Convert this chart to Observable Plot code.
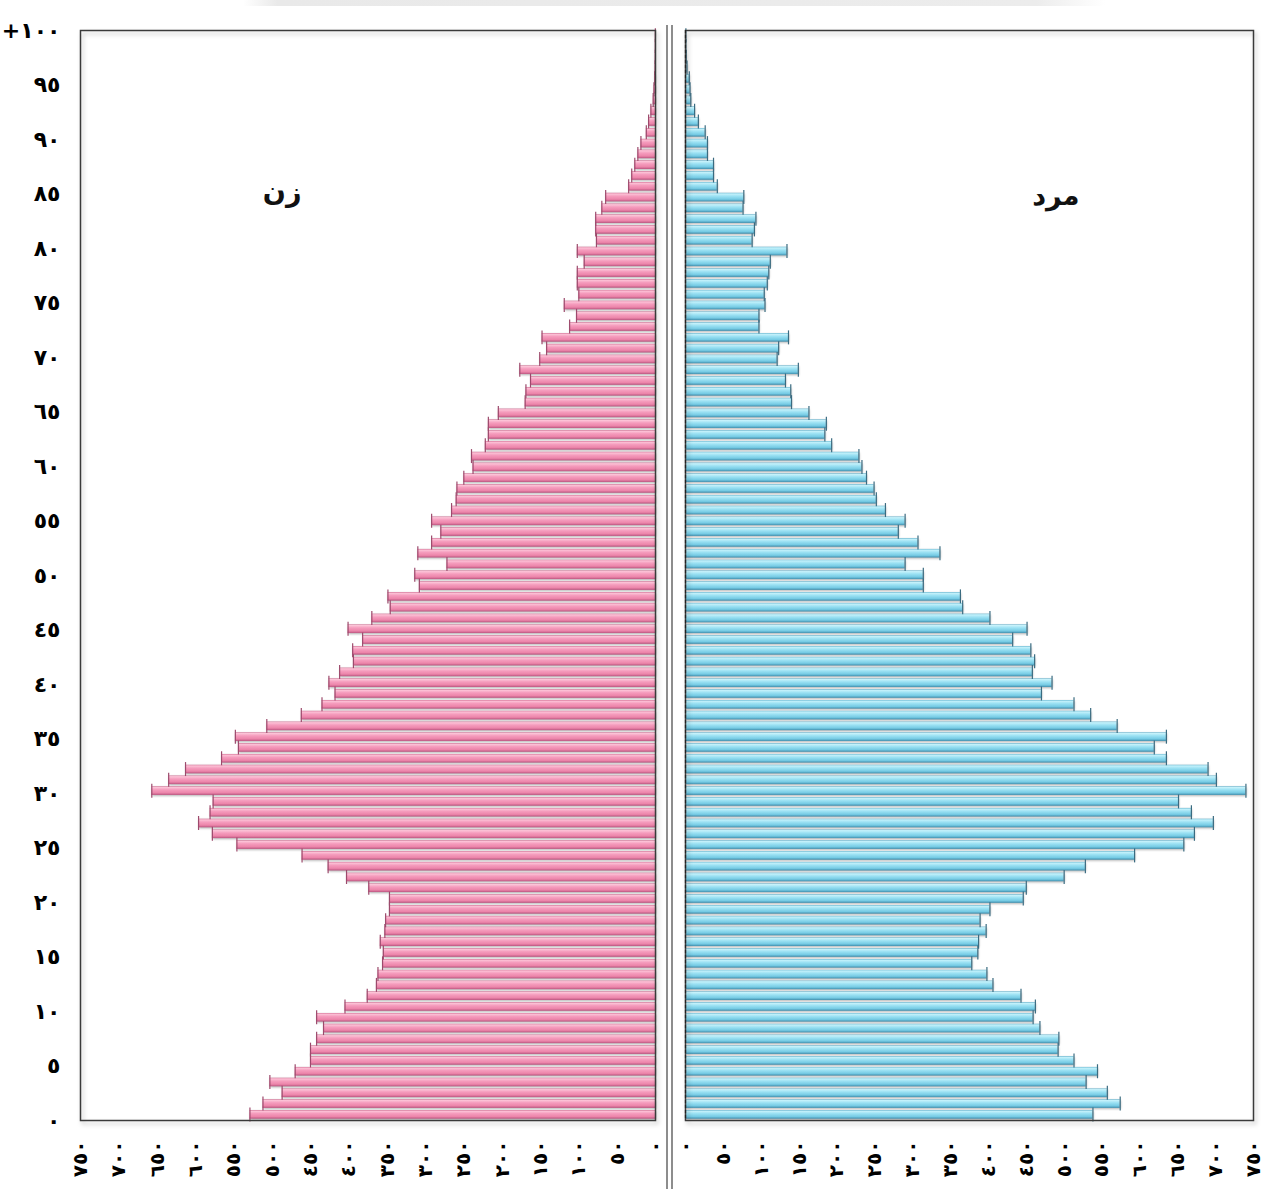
<!DOCTYPE html>
<html><head><meta charset="utf-8">
<script src="https://cdn.jsdelivr.net/npm/d3@7"></script>
<script src="https://cdn.jsdelivr.net/npm/@observablehq/plot@0.6"></script>
<style>
body{margin:0;background:#fff;}
#wrap{position:relative;width:1266px;height:1189px;overflow:hidden;font-family:"DejaVu Sans",sans-serif;}
.panel{position:absolute;top:0;}
#topband{position:absolute;left:243px;top:0;width:862px;height:6px;background:linear-gradient(to right,rgba(235,235,235,0),#e9e9e9 4%,#ececec 92%,rgba(240,240,240,0));}
.sep{position:absolute;top:25px;height:1164px;width:1.5px;background:#8d8d8d;}
</style></head><body>
<div id="wrap">
 <div id="topband"></div>
 <div class="sep" style="left:666px"></div>
 <div class="sep" style="left:671px"></div>
 <div id="left" class="panel" style="left:0"></div>
 <div id="right" class="panel" style="left:662px"></div>
</div>
<script>
// single-year ages 0..100 (100 = 100+)
const ages = d3.range(0, 101);
// women (زن), left side
const female = [529,512,487,503,470,450,450,442,433,442,
  405,376,364,362,356,355,359,353,352,347,
  347,374,403,427,461,546,578,596,581,577,
  657,635,613,566,544,548,507,462,435,418,
  426,412,394,395,382,401,370,346,349,308,
  314,272,310,292,280,292,266,260,259,250,
  238,240,222,218,218,205,170,169,163,177,
  151,142,148,112,103,119,100,102,102,93,
  102,77,78,78,70,65,35,31,27,23,
  19,12,9,6,3,2,1,0.5,0.3,0.2,0.2];
// men (مرد), right side
const male = [538,574,557,529,544,513,492,493,468,459,
  462,443,406,398,378,386,387,397,389,402,
  446,450,500,528,593,658,672,697,668,651,
  740,701,690,635,619,635,570,535,513,470,
  484,458,461,456,432,451,402,366,363,314,
  314,290,336,307,281,290,264,252,249,239,
  233,229,193,184,186,163,140,139,132,149,
  121,123,136,97,97,105,104,108,110,112,
  134,88,91,93,76,77,42,37,37,29,
  29,26,17,12,7,6,5,2,1,0.5,0.5];
const xTicks = d3.range(0, 751, 50);
const ageTicks = d3.range(0, 101, 5);
const panelLabels = [
  {side: "female", text: "زن", value: 487, age: 86},
  {side: "male", text: "مرد", value: 489, age: 85.6}
];

const toArabic = s => String(s).replace(/\d/g, d => String.fromCharCode(0x0660 + +d));
const ageLabel = v => { const a = Math.round(v / 1.01); return a === 100 ? "+" + toArabic(a) : toArabic(a); };

const femaleData = ages.map((a, i) => ({age: a, v: female[i]}));
const maleData = ages.map((a, i) => ({age: a, v: male[i]}));

const H = 1189, MT = 30, MB = 69;
const baseStyle = {fontFamily: "'DejaVu Sans', sans-serif", fontWeight: "bold", fontSize: "22px", color: "#000", background: "transparent", overflow: "visible"};

function addGradient(svg, id, stops) {
  const defs = d3.select(svg).insert("defs", ":first-child");
  const g = defs.append("linearGradient").attr("id", id).attr("x1", 0).attr("y1", 0).attr("x2", 0).attr("y2", 1);
  stops.forEach(([o, c]) => g.append("stop").attr("offset", o).attr("stop-color", c));
}

function panel(data, side, opts) {
  const labels = panelLabels.filter(d => d.side === side);
  const grad = side === "female" ? "gPink" : "gBlue";
  const cap = side === "female" ? "#9c4a6c" : "#3a6b80";
  const marks = [
    Plot.rect(data, {x1: 0, x2: "v", y1: "age", y2: d => d.age + 1, insetTop: 0.9, insetBottom: 1.3, fill: `url(#${grad})`}),
    Plot.ruleX(data, {x: "v", y1: "age", y2: d => d.age + 1, insetTop: 1.4, insetBottom: 1.8, stroke: cap, strokeWidth: 1.2}),
    Plot.frame({stroke: "#3a3a3a", strokeWidth: 1.5}),
    Plot.axisX({ticks: xTicks, tickFormat: toArabic, tickRotate: -90, tickSize: 0, tickPadding: 20, anchor: "bottom", label: null, fontSize: 20}),
    Plot.text(labels, {x: "value", y: "age", text: "text", fontSize: 27, fontWeight: "bold", fill: "#111"})
  ];
  if (side === "female") {
    marks.push(Plot.axisY({ticks: ageTicks.map(t => t * 1.01), tickFormat: ageLabel, tickSize: 0, tickPadding: 20, anchor: "left", label: null}));
  } else {
    marks.push(Plot.ruleX([0], {stroke: "#222", strokeWidth: 1.2, strokeDasharray: "3,2"}));
  }
  const svg = Plot.plot({
    width: opts.width, height: H,
    marginLeft: opts.ml, marginRight: opts.mr, marginTop: MT, marginBottom: MB,
    x: {domain: [0, 750], reverse: side === "female", label: null},
    y: {domain: [0, 101], label: null, axis: side === "female" ? undefined : null},
    style: baseStyle,
    marks
  });
  if (side === "female") {
    addGradient(svg, grad, [[0, "#d0658d"], [0.12, "#fcc3d7"], [0.4, "#f59cbd"], [0.75, "#ec85aa"], [1, "#bb5580"]]);
  } else {
    addGradient(svg, grad, [[0, "#5aafcc"], [0.12, "#c6f2fb"], [0.4, "#9be1f3"], [0.75, "#76cbe4"], [1, "#418fae"]]);
  }
  svg.querySelectorAll('g[aria-label="rect"]').forEach(g => g.style.filter = "drop-shadow(1.5px 1.5px 1.2px rgba(0,0,0,0.3))");
  svg.querySelectorAll('[aria-label="frame"]').forEach(g => g.style.filter = "drop-shadow(2px 3px 2px rgba(0,0,0,0.25))");
  svg.querySelectorAll('g[aria-label="x-axis tick label"]').forEach(g => g.style.fontSize = "20px");
  return svg;
}

document.getElementById("left").appendChild(panel(femaleData, "female", {width: 662, ml: 80, mr: 7}));
document.getElementById("right").appendChild(panel(maleData, "male", {width: 604, ml: 23, mr: 13}));
</script>
</body></html>
